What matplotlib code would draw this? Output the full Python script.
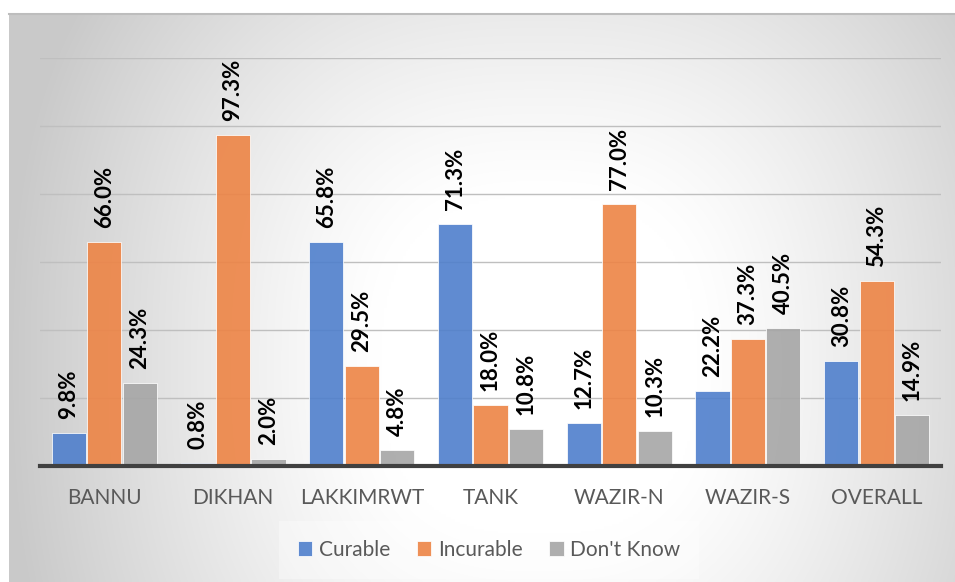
import matplotlib.pyplot as plt
import numpy as np

# data
districts = ["BANNU", "DIKHAN", "LAKKIMRWT", "TANK", "WAZIR-N", "WAZIR-S", "OVERALL"]
curable = [9.8, 0.8, 65.8, 71.3, 12.7, 22.2, 30.8]
incurable = [66.0, 97.3, 29.5, 18.0, 77.0, 37.3, 54.3]
dont_know = [24.3, 2.0, 4.8, 10.8, 10.3, 40.5, 14.9]

series = [("Curable", curable, "#4F7FCC"),
          ("Incurable", incurable, "#ED8445"),
          ("Don't Know", dont_know, "#A6A6A6")]

plt.rcParams["font.family"] = ["Lato", "DejaVu Sans"]

W, H = 955, 582
fig = plt.figure(figsize=(W / 100, H / 100), dpi=100)
fig.patch.set_facecolor("white")

# background panel: light centre, grey edges
bg = fig.add_axes([9 / W, 0, 1 - 9 / W, (H - 13) / H], zorder=0)
nx, ny = 400, 240
xx, yy = np.meshgrid(np.linspace(0, 1, nx), np.linspace(0, 1, ny))
cx, cy = 0.56, 0.62  # y measured from top
p = 2.6
r = (np.abs((xx - cx) / 0.56) ** p + np.abs((yy - cy) / 1.0) ** p) ** (1 / p)
f = np.clip((r - 0.3) / 0.7, 0, 1) ** 1.2
shade = 1.0 - 0.21 * f
img = np.dstack([shade, shade, shade])
bg.imshow(img, extent=[0, 1, 0, 1], origin="upper", aspect="auto", interpolation="bilinear")
bg.set_xlim(0, 1)
bg.set_ylim(0, 1)
bg.axis("off")
bg.plot([0, 1], [0.999, 0.999], color="#BDBDBD", lw=1.5, transform=bg.transAxes, clip_on=False)

# main plot area
ax = fig.add_axes([40 / W, (H - 466) / H, (941 - 40) / W, (466 - 58) / H], zorder=1)
ax.patch.set_alpha(0)

x = np.arange(len(districts))
bw = 0.265
for i, (name, vals, col) in enumerate(series):
    pos = x + (i - 1) * 0.275
    bars = ax.bar(pos, vals, width=bw, color=col, alpha=0.9, edgecolor="#FFFFFF",
                  linewidth=0.6, label=name, zorder=2)
    for b, v in zip(bars, vals):
        ax.annotate(f"{v:.1f}%", (b.get_x() + b.get_width() / 2, v),
                    xytext=(0, 10), textcoords="offset points",
                    rotation=90, ha="center", va="bottom",
                    fontsize=16, fontweight="bold", color="black", zorder=3)

ax.set_xlim(-0.5, len(districts) - 0.5)
ax.set_ylim(0, 120)
ax.set_yticks(np.arange(20, 121, 20))
ax.yaxis.grid(True, color="#BFBFBF", linewidth=1.0, zorder=0)
ax.set_axisbelow(True)
ax.tick_params(axis="y", left=False, labelleft=False)
ax.tick_params(axis="x", length=0, pad=16, labelsize=15, labelcolor="#595959")
ax.set_xticks(x)
ax.set_xticklabels(districts)
for s in ["top", "right", "left"]:
    ax.spines[s].set_visible(False)
ax.spines["bottom"].set_color("#404040")
ax.spines["bottom"].set_linewidth(3)

leg = ax.legend(loc="center", bbox_to_anchor=(489 / W, 32 / H), bbox_transform=fig.transFigure,
                ncol=3, frameon=True, fontsize=15, handlelength=0.7, handleheight=0.7,
                handletextpad=0.3, columnspacing=1.3, labelcolor="#595959",
                borderpad=0.6)
leg.get_frame().set_facecolor("white")
leg.get_frame().set_alpha(0.35)
leg.get_frame().set_edgecolor("none")
leg.get_frame().set_boxstyle("square")

fig.savefig("out.png", dpi=100)
